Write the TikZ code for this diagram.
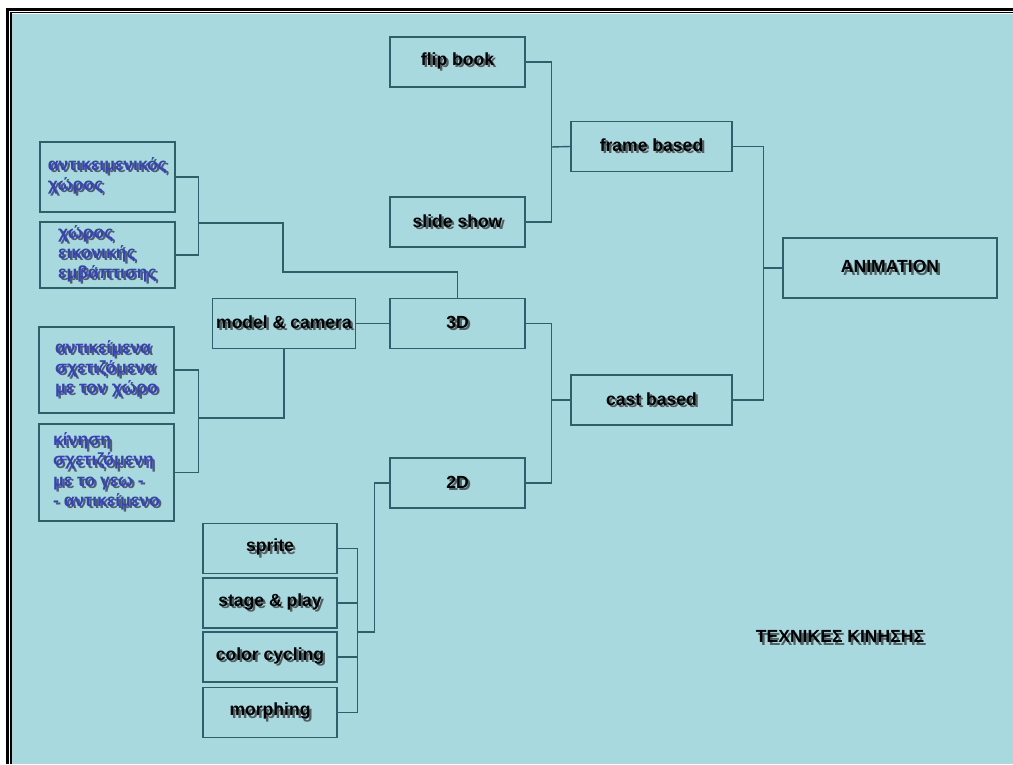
\documentclass[tikz,border=0pt]{standalone}
\usepackage{fontspec}
\setmainfont{Liberation Sans}
\definecolor{bgc}{RGB}{168,217,223}
\definecolor{linec}{RGB}{46,95,106}
\definecolor{greekc}{RGB}{58,63,192}
\colorlet{shadowc}{black!55!bgc}
\newcommand\shd[1]{\makebox[0pt][l]{\hspace{1.3pt}\raisebox{-1.3pt}{\textcolor{shadowc}{#1}}}#1}
\begin{document}
\begin{tikzpicture}[x=0.02cm, y=-0.02cm,
	box/.style={draw=linec, line width=0.8pt, minimum height=1cm, inner sep=2pt, text=black,
		font=\bfseries\fontsize{10}{11.5}\selectfont},
	gbox/.style={box, text=greekc, align=left},
	conn/.style={draw=linec, line width=0.8pt}]
		\useasboundingbox (0,0) rectangle (1013,764);
		\fill[white] (0,0) rectangle (1013,764);
		\fill[bgc] (12,14) rectangle (1013,764);
		\draw[line width=0.06cm] (7.5,764) |- (1013,9.5);
		\draw[line width=0.04cm] (11,764) |- (1013,12.5);

		\node[box, minimum width=2.7cm] (flip) at (457.5,62) {\shd{flip book}};
		\node[box, minimum width=2.7cm] (slide) at (457.5,222) {\shd{slide show}};
		\node[box, minimum width=3.22cm] (frame) at (651.5,146.5) {\shd{frame based}};
		\node[box, minimum width=3.22cm] (cast) at (651.5,400) {\shd{cast based}};
		\node[box, minimum width=4.28cm, minimum height=1.2cm] (anim) at (890,268) {\shd{ANIMATION}};
		\node[box, minimum width=2.7cm] (threeD) at (457.5,323.5) {\shd{3D}};
		\node[box, minimum width=2.7cm] (twoD) at (457.5,483) {\shd{2D}};
		\node[box, minimum width=2.84cm] (model) at (284,323.5) {\shd{model \& camera}};

		\node[gbox, minimum width=2.7cm, minimum height=1.4cm] (objspace) at (107.5,177)
			{\shd{αντικειμενικός}\\\shd{χώρος}};
		\node[gbox, minimum width=2.7cm, minimum height=1.28cm] (virtspace) at (107.5,255)
			{\shd{χώρος}\\\shd{εικονικής}\\\shd{εμβάπτισης}};
		\node[gbox, minimum width=2.7cm, minimum height=1.72cm] (objrel) at (106.5,370)
			{\shd{αντικείμενα}\\\shd{σχετιζόμενα}\\\shd{με τον χώρο}};
		\node[gbox, minimum width=2.7cm, minimum height=1.94cm] (motion) at (106.5,472.5)
			{\shd{κίνηση}\\\shd{σχετιζόμενη}\\\shd{με το γεω -}\\\shd{- αντικείμενο}};

		\node[box, minimum width=2.68cm] (sprite) at (270,548.5) {\shd{sprite}};
		\node[box, minimum width=2.68cm] (stage) at (270,603) {\shd{stage \& play}};
		\node[box, minimum width=2.68cm] (cycling) at (270,657) {\shd{color cycling}};
		\node[box, minimum width=2.68cm] (morph) at (270,712.5) {\shd{morphing}};

		\node[font=\bfseries\fontsize{10}{12}\selectfont] (title) at (840,638) {\shd{ΤΕΧΝΙΚΕΣ ΚΙΝΗΣΗΣ}};

		\coordinate (flipjoin) at (551,147);
		\coordinate (animjoin) at (763,270);
		\coordinate (castjoin) at (551,400);
		\coordinate (objjoin) at (198,223);
		\coordinate (objbend) at (283,272);
		\coordinate (reljoin) at (198,418);
		\coordinate (spritejoin) at (357,632);

		\path[conn] (flip.east) -- ++(26,0) |- (slide.east);
		\path[conn] (frame.west) -- (flipjoin);
		\path[conn] (frame.east) -- ++(31,0) |- (cast.east);
		\path[conn] (anim.west) -- (anim.west -| animjoin);
		\path[conn] (threeD.east) -- ++(26,0) |- (twoD.east);
		\path[conn] (cast.west) -- (castjoin);
		\path[conn] (objspace.east) -- ++(23,0) |- (virtspace.east);
		\path[conn] (objjoin) -| (objbend) -| (threeD.north);
		\path[conn] (model.east) -- (threeD.west);
		\path[conn] (objrel.east) -- ++(24,0) |- (motion.east);
		\path[conn] (model.south) |- (reljoin);
		\path[conn] (sprite.east) -- ++(20,0) |- (morph.east);
		\path[conn] (stage.east) -- ++(20,0);
		\path[conn] (cycling.east) -- ++(20,0);
		\path[conn] (twoD.west) -- ++(-15,0) |- (spritejoin);
	\end{tikzpicture}
\end{document}
